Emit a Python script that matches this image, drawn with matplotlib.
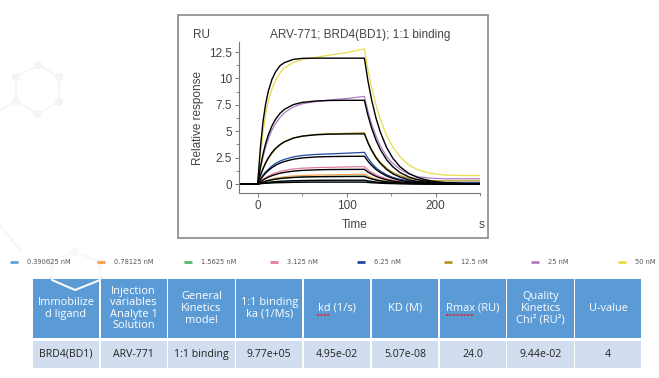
import matplotlib
matplotlib.use("Agg")
import matplotlib.pyplot as plt
from matplotlib.patches import Rectangle, Circle
from matplotlib.ticker import MultipleLocator, FuncFormatter

# sensorgram time grid (s)
t = [-20, 0, 3, 6, 9, 12, 16, 20, 25, 30, 40, 50, 65, 80, 100, 120,
     124, 128, 133, 138, 145, 152, 160, 170, 180, 195, 210, 230, 250]

conc_labels = ["0.390625 nM", "0.78125 nM", "1.5625 nM", "3.125 nM",
               "6.25 nM", "12.5 nM", "25 nM", "50 nM"]
conc_colors = ["#5ba3d9", "#f5a04a", "#55b86a", "#e87aa8",
               "#1f4aa5", "#b59a1b", "#b07cc6", "#e8dc4a"]

# measured responses (RU), one list per concentration
d03 = [0, 0, 0.05, 0.09, 0.12, 0.15, 0.18, 0.2, 0.22, 0.24, 0.27, 0.28, 0.29, 0.3, 0.3, 0.3,
       0.25, 0.2, 0.16, 0.13, 0.1, 0.08, 0.06, 0.05, 0.05, 0.05, 0.05, 0.05, 0.05]
d07 = [0, 0, 0.1, 0.2, 0.3, 0.38, 0.47, 0.55, 0.62, 0.68, 0.76, 0.8, 0.85, 0.87, 0.9, 0.92,
       0.75, 0.6, 0.47, 0.37, 0.27, 0.2, 0.15, 0.12, 0.1, 0.1, 0.1, 0.1, 0.1]
d1 = [0, 0, 0.1, 0.2, 0.27, 0.34, 0.41, 0.47, 0.53, 0.57, 0.63, 0.67, 0.7, 0.72, 0.73, 0.74,
      0.62, 0.5, 0.4, 0.32, 0.23, 0.17, 0.12, 0.09, 0.07, 0.06, 0.06, 0.06, 0.06]
d3 = [0, 0, 0.25, 0.45, 0.6, 0.75, 0.92, 1.05, 1.18, 1.28, 1.42, 1.5, 1.55, 1.58, 1.62, 1.65,
      1.35, 1.12, 0.88, 0.7, 0.5, 0.37, 0.27, 0.2, 0.15, 0.12, 0.12, 0.12, 0.12]
d6 = [0, 0, 0.45, 0.85, 1.15, 1.4, 1.7, 1.95, 2.17, 2.33, 2.57, 2.7, 2.8, 2.85, 2.92, 3.0,
      2.45, 2.0, 1.55, 1.22, 0.88, 0.63, 0.45, 0.3, 0.22, 0.17, 0.15, 0.15, 0.15]
d12 = [0, 0, 0.75, 1.4, 1.95, 2.4, 2.9, 3.3, 3.7, 3.98, 4.35, 4.55, 4.7, 4.76, 4.8, 4.85,
       4.0, 3.3, 2.6, 2.05, 1.5, 1.1, 0.8, 0.55, 0.4, 0.32, 0.3, 0.3, 0.3]
d25 = [0, 0, 1.4, 2.55, 3.5, 4.3, 5.1, 5.7, 6.3, 6.75, 7.3, 7.6, 7.8, 7.95, 8.1, 8.3,
       6.9, 5.7, 4.55, 3.6, 2.6, 1.95, 1.4, 0.95, 0.7, 0.55, 0.5, 0.5, 0.5]
d50 = [0, 0, 2.7, 4.9, 6.6, 7.9, 9.0, 9.8, 10.5, 11.0, 11.5, 11.8, 12.0, 12.2, 12.45, 12.8,
       10.8, 9.2, 7.5, 6.1, 4.6, 3.5, 2.6, 1.8, 1.35, 1.0, 0.85, 0.8, 0.8]

# 1:1 fitted curves (black)
f03 = [0, 0, 0.03, 0.05, 0.07, 0.08, 0.10, 0.12, 0.13, 0.14, 0.16, 0.17, 0.18, 0.18, 0.18, 0.18,
       0.15, 0.12, 0.10, 0.08, 0.05, 0.04, 0.03, 0.02, 0.01, 0.0, 0.0, 0.0, 0.0]
f07 = [0, 0, 0.05, 0.10, 0.13, 0.16, 0.20, 0.23, 0.26, 0.28, 0.31, 0.33, 0.35, 0.36, 0.36, 0.36,
       0.30, 0.24, 0.19, 0.15, 0.11, 0.07, 0.05, 0.03, 0.02, 0.01, 0.0, 0.0, 0.0]
f1 = [0, 0, 0.10, 0.19, 0.26, 0.33, 0.40, 0.46, 0.52, 0.56, 0.62, 0.66, 0.69, 0.70, 0.71, 0.72,
      0.59, 0.48, 0.38, 0.29, 0.21, 0.15, 0.10, 0.06, 0.04, 0.02, 0.01, 0.0, 0.0]
f3 = [0, 0, 0.20, 0.38, 0.52, 0.65, 0.79, 0.90, 1.02, 1.10, 1.22, 1.29, 1.34, 1.37, 1.38, 1.39,
      1.14, 0.94, 0.73, 0.57, 0.40, 0.28, 0.19, 0.12, 0.07, 0.03, 0.02, 0.01, 0.0]
f6 = [0, 0, 0.40, 0.75, 1.04, 1.28, 1.55, 1.77, 1.98, 2.13, 2.35, 2.47, 2.56, 2.60, 2.62, 2.63,
      2.16, 1.77, 1.38, 1.08, 0.76, 0.54, 0.36, 0.22, 0.13, 0.06, 0.03, 0.01, 0.0]
f12 = [0, 0, 0.80, 1.47, 2.02, 2.48, 2.98, 3.37, 3.73, 4.00, 4.35, 4.53, 4.66, 4.72, 4.74, 4.75,
       3.90, 3.20, 2.49, 1.95, 1.38, 0.97, 0.66, 0.40, 0.24, 0.12, 0.06, 0.02, 0.01]
f25 = [0, 0, 1.58, 2.84, 3.85, 4.66, 5.50, 6.12, 6.68, 7.07, 7.52, 7.73, 7.86, 7.91, 7.93, 7.93,
       6.50, 5.34, 4.16, 3.25, 2.30, 1.63, 1.09, 0.67, 0.41, 0.19, 0.09, 0.03, 0.01]
f50 = [0, 0, 3.4, 5.9, 7.6, 8.8, 9.9, 10.6, 11.2, 11.5, 11.8, 11.9, 11.92, 11.92, 11.92, 11.92,
       9.77, 8.02, 6.26, 4.89, 3.46, 2.44, 1.64, 1.00, 0.61, 0.29, 0.14, 0.05, 0.02]

data = [d03, d07, d1, d3, d6, d12, d25, d50]
fits = [f03, f07, f1, f3, f6, f12, f25, f50]

# kinetics table
headers = ["Immobilize\nd ligand", "Injection\nvariables\nAnalyte 1\nSolution",
           "General\nKinetics\nmodel", "1:1 binding\nka (1/Ms)", "kd (1/s)", "KD (M)",
           "Rmax (RU)", "Quality\nKinetics\nChi² (RU²)", "U-value"]
values = ["BRD4(BD1)", "ARV-771", "1:1 binding", "9.77e+05", "4.95e-02",
          "5.07e-08", "24.0", "9.44e-02", "4"]

W, H = 659, 378
fig = plt.figure(figsize=(W / 100, H / 100), dpi=100)

# pixel-space background layer
bg = fig.add_axes([0, 0, 1, 1], zorder=0)
bg.set_xlim(0, W)
bg.set_ylim(H, 0)
bg.axis("off")

# faint hexagon decoration
hexa = [(38, 65), (59, 77), (59, 102), (37, 114), (16, 101), (16, 77), (38, 65)]
bg.plot([p[0] for p in hexa], [p[1] for p in hexa], color="#f6f6f6", lw=1.5)
bg.plot([16, 0], [101, 110], color="#f6f6f6", lw=1.5)
for p in hexa[:-1]:
    bg.add_patch(Circle(p, 4, color="#f3f3f3", lw=0))
hexb = [(75, 252), (100, 262), (100, 280), (75, 290), (52, 280), (52, 262), (75, 252)]
bg.plot([p[0] for p in hexb], [p[1] for p in hexb], color="#f8f8f8", lw=1.5)
for p in hexb[:-1]:
    bg.add_patch(Circle(p, 4, color="#f6f6f6", lw=0))
bg.plot([0, 20], [225, 250], color="#f7f7f7", lw=1.5)

# chart frame
bg.add_patch(Rectangle((178, 15), 310, 223, fill=False, ec="#8a8a8a", lw=1.2))

# sensorgram
ax = fig.add_axes([239 / W, 185 / H, 241 / W, 151 / H], zorder=2)
ax.patch.set_alpha(0)
for y, c in zip(data, conc_colors):
    ax.plot(t, y, color=c, lw=0.9)
for y in fits:
    ax.plot(t, y, color="black", lw=1.0)

ax.set_xlim(-21, 250)
ax.set_ylim(-0.85, 13.45)
for s in ["top", "right"]:
    ax.spines[s].set_visible(False)
for s in ["left", "bottom"]:
    ax.spines[s].set_color("#777777")
    ax.spines[s].set_linewidth(0.8)
ax.xaxis.set_major_locator(MultipleLocator(100))
ax.xaxis.set_minor_locator(MultipleLocator(50))
ax.yaxis.set_major_locator(MultipleLocator(2.5))
ax.yaxis.set_minor_locator(MultipleLocator(1.25))
ax.yaxis.set_major_formatter(FuncFormatter(lambda v, p: f"{v:g}"))
ax.tick_params(which="major", length=3, width=0.7, color="#777777",
               labelsize=8.5, labelcolor="#444444", pad=2)
ax.tick_params(which="minor", length=2, width=0.6, color="#777777")
for lab in ax.get_xticklabels() + ax.get_yticklabels():
    lab.set_family("Liberation Sans")

txt = dict(family="Liberation Sans", color="#444444", fontsize=8.5,
           ha="center", va="center")
bg.text(360, 35, "ARV-771; BRD4(BD1); 1:1 binding", **txt)
bg.text(202, 35, "RU", **txt)
bg.text(198, 118, "Relative response", rotation=90, **txt)
bg.text(355, 225, "Time", **txt)
bg.text(482, 225, "s", **txt)

# legend row
for i, (lab, c) in enumerate(zip(conc_labels, conc_colors)):
    x0 = 10 + i * 86.8
    bg.plot([x0, x0 + 8], [262, 262], color=c, lw=2.0, solid_capstyle="butt")
    bg.text(x0 + 17, 262, lab, fontsize=4.8, color="#555555", va="center", ha="left")

# table
left, cw = 32, 67.8
top_h, bot_h = 279, 338
top_d, bot_d = 341, 368
for i, (hd, v) in enumerate(zip(headers, values)):
    x0 = left + i * cw
    bg.add_patch(Rectangle((x0 + 0.75, top_h), cw - 1.5, bot_h - top_h,
                           fc="#5b9bd5", ec="none"))
    bg.add_patch(Rectangle((x0 + 0.75, top_d), cw - 1.5, bot_d - top_d,
                           fc="#d2deef", ec="none"))
    bg.text(x0 + cw / 2, (top_h + bot_h) / 2, hd, family="Open Sans", fontsize=7.9,
            color="white", ha="center", va="center", linespacing=1.08)
    bg.text(x0 + cw / 2, (top_d + bot_d) / 2, v, family="Open Sans", fontsize=7.6,
            color="#222222", ha="center", va="center")

# spell-check squiggles under kd and Rmax
bg.plot([317, 329], [315, 315], color="#e02020", lw=1.1, ls=(0, (1.5, 0.8)))
bg.plot([446, 473], [315, 315], color="#e02020", lw=1.1, ls=(0, (1.5, 0.8)))

fig.savefig("out.png", dpi=100)
